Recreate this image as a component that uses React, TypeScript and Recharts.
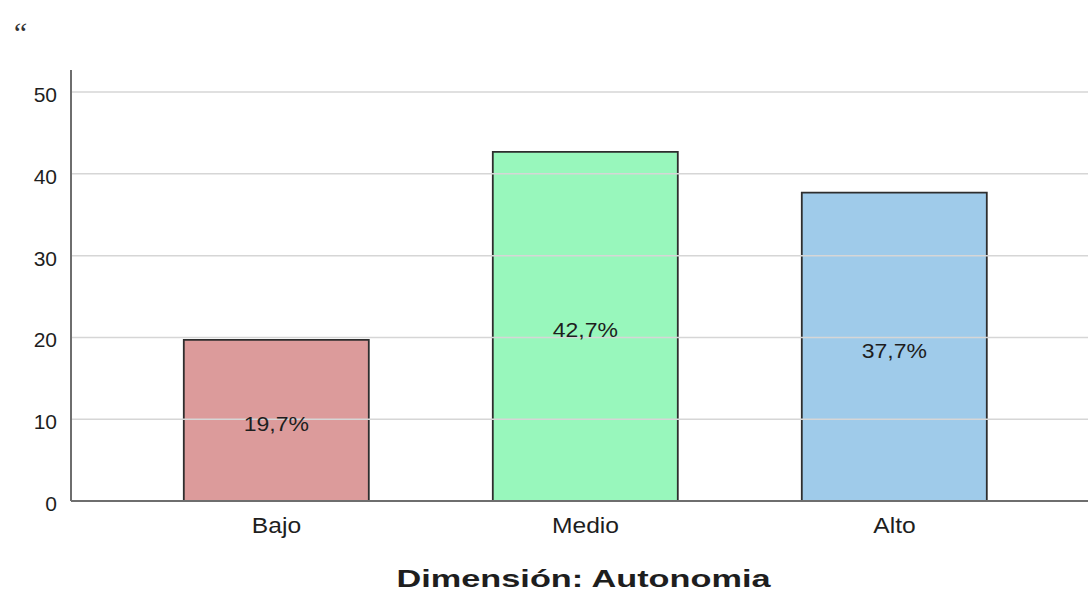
import React from 'react';
import {
  BarChart,
  Bar,
  XAxis,
  YAxis,
  ReferenceLine,
  Cell,
  LabelList,
} from 'recharts';

const categories = ['Bajo', 'Medio', 'Alto'];
const percents = [19.7, 42.7, 37.7];
const yTicks = [0, 10, 20, 30, 40, 50];
const axisTitle = 'Dimensión: Autonomia';

const barColors = ['#dc9b9b', '#98f7bc', '#9fcbea'];
const FONT = "'Liberation Sans', Arial, sans-serif";
const INK = '#1e1e1e';

const data = categories.map((name, i) => ({ name, value: percents[i] }));

const fmt = (v: number) => `${v.toFixed(1).replace('.', ',')}%`;

function StretchText({ x, y, sx = 1, anchor = 'middle', size, weight = 400, children }: any) {
  return (
    <text
      transform={`translate(${x},${y}) scale(${sx},1)`}
      textAnchor={anchor}
      fontSize={size}
      fontWeight={weight}
      fontFamily={FONT}
      fill={INK}
    >
      {children}
    </text>
  );
}

const YTick = ({ x, y, payload }: any) => (
  <StretchText x={x} y={y + 10} anchor="end" size={21}>
    {payload.value}
  </StretchText>
);

const XTick = ({ x, y, payload }: any) => (
  <StretchText x={x} y={y + 24} sx={1.12} size={22}>
    {payload.value}
  </StretchText>
);

const BarText = ({ x, y, width, height, value }: any) => (
  <StretchText x={x + width / 2} y={y + height / 2 + 11} sx={1.15} size={20}>
    {fmt(value)}
  </StretchText>
);

const Title = ({ viewBox }: any) => (
  <StretchText
    x={viewBox.x + viewBox.width / 2 + 4}
    y={587}
    sx={1.4}
    size={24.5}
    weight={700}
  >
    {axisTitle}
  </StretchText>
);

export default function App() {
  return (
    <div style={{ position: 'absolute', left: 0, top: 0, width: 1088, height: 592, background: '#fff' }}>
      <div
        style={{
          position: 'absolute',
          left: 11,
          top: 18,
          fontFamily: "'Liberation Serif', 'Times New Roman', serif",
          fontStyle: 'italic',
          fontSize: 30,
          lineHeight: 1,
          color: '#333',
        }}
      >
        “
      </div>
      <BarChart
        width={1088}
        height={592}
        data={data}
        margin={{ top: 70, right: 0, bottom: 0, left: 0 }}
        barCategoryGap="20%"
      >
        {yTicks.slice(1).map((t) => (
          <ReferenceLine key={t} y={t} stroke="#d6d6d6" strokeWidth={1.5} />
        ))}
        <XAxis
          dataKey="name"
          height={91}
          padding={{ left: 51, right: 39 }}
          axisLine={{ stroke: '#6e6e6e', strokeWidth: 2 }}
          tickLine={false}
          tick={<XTick />}
          label={<Title />}
        />
        <YAxis
          width={71}
          domain={[0, 52.7]}
          ticks={yTicks}
          tickMargin={8}
          axisLine={{ stroke: '#6e6e6e', strokeWidth: 2 }}
          tickLine={false}
          tick={<YTick />}
          interval={0}
        />
        <Bar dataKey="value" stroke="#2e2e2e" strokeWidth={1.8} isAnimationActive={false}>
          {data.map((d, i) => (
            <Cell key={d.name} fill={barColors[i]} />
          ))}
          <LabelList dataKey="value" content={<BarText />} />
        </Bar>
      </BarChart>
    </div>
  );
}
